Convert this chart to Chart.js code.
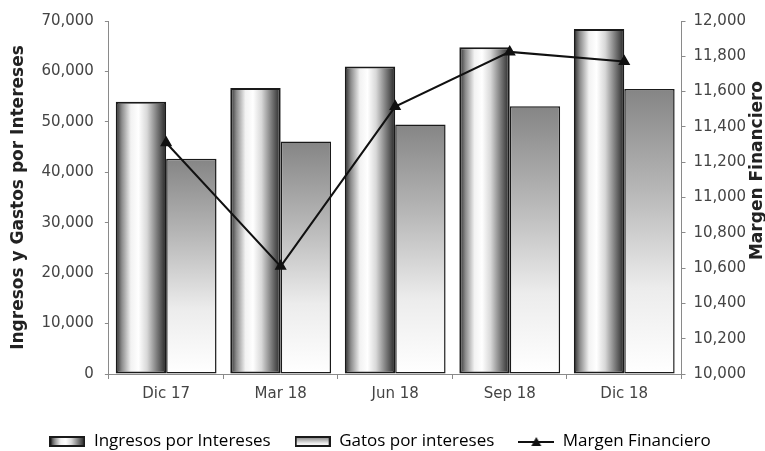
<!DOCTYPE html>
<html>
<head>
<meta charset="utf-8">
<script src="https://cdn.jsdelivr.net/npm/chart.js@4/dist/chart.umd.min.js"></script>
<style>
    html, body { margin: 0; padding: 0; background: #fff; }
    #wrap { width: 765px; height: 451px; position: relative; }
</style>
</head>
<body>
<div id="wrap"><canvas id="margenChart"></canvas></div>
<script>
// Quarterly interest income / expense and financial margin
const periodos = ['Dic 17', 'Mar 18', 'Jun 18', 'Sep 18', 'Dic 18'];
const ingresosIntereses = [54000, 56700, 61000, 64800, 68400];
const gastosIntereses = [42700, 46100, 49500, 53100, 56500];
const margenFinanciero = [11310, 10610, 11515, 11825, 11770];

const tickFont = { family: 'DejaVu Sans', size: 15 };
const titleFont = { family: 'DejaVu Sans', size: 17, weight: 'bold' };
const tickColor = '#444';
const axisColor = '#8a8a8a';

function fmt(v) {
    return Number(v).toLocaleString('en-US');
}

// Cylinder-like horizontal shading for the income bars
function addCylinderStops(g) {
    g.addColorStop(0, '#2a2a2a');
    g.addColorStop(0.12, '#8c8c8c');
    g.addColorStop(0.3, '#f2f2f2');
    g.addColorStop(0.45, '#ffffff');
    g.addColorStop(0.62, '#d8d8d8');
    g.addColorStop(0.82, '#7a7a7a');
    g.addColorStop(1, '#262626');
}

// Vertical gray fade for the expense bars
function addFadeStops(g) {
    g.addColorStop(0, '#858585');
    g.addColorStop(0.35, '#b6b6b6');
    g.addColorStop(0.7, '#ececec');
    g.addColorStop(1, '#ffffff');
}

function makeIcon(kind) {
    const c = document.createElement('canvas');
    c.width = 36;
    c.height = 11;
    const g = c.getContext('2d');
    if (kind === 'line') {
        g.strokeStyle = '#111';
        g.lineWidth = 2;
        g.beginPath();
        g.moveTo(0, 6);
        g.lineTo(36, 6);
        g.stroke();
        g.fillStyle = '#111';
        g.beginPath();
        g.moveTo(18, 1);
        g.lineTo(23, 10);
        g.lineTo(13, 10);
        g.closePath();
        g.fill();
        return c;
    }
    const grad = kind === 'cyl' ? g.createLinearGradient(1, 0, 35, 0) : g.createLinearGradient(0, 1, 0, 10);
    if (kind === 'cyl') addCylinderStops(grad); else addFadeStops(grad);
    g.fillStyle = grad;
    g.fillRect(1, 1, 34, 9);
    g.strokeStyle = '#1a1a1a';
    g.lineWidth = 2;
    g.strokeRect(1, 1, 34, 9);
    return c;
}

const legendIcons = [makeIcon('cyl'), makeIcon('fade'), makeIcon('line')];

// Swap the flat bar fills for gradients sized to each bar
const barShading = {
    id: 'barShading',
    beforeDatasetDraw(chart, args) {
        if (args.meta.type !== 'bar') return;
        const ctx = chart.ctx;
        args.meta.data.forEach(bar => {
            const left = bar.x - bar.width / 2;
            let g;
            if (args.index === 0) {
                g = ctx.createLinearGradient(left, 0, left + bar.width, 0);
                addCylinderStops(g);
            } else {
                g = ctx.createLinearGradient(0, bar.y, 0, bar.base);
                addFadeStops(g);
            }
            bar.options.backgroundColor = g;
        });
    }
};

// Right axis title, written bottom-to-top like the left one
const rightTitle = {
    id: 'rightTitle',
    afterDraw(chart) {
        const ctx = chart.ctx;
        const area = chart.chartArea;
        ctx.save();
        ctx.translate(chart.width - 7, (area.top + area.bottom) / 2 - 27);
        ctx.rotate(-Math.PI / 2);
        ctx.font = 'bold 17px "DejaVu Sans"';
        ctx.fillStyle = '#222';
        ctx.textAlign = 'center';
        ctx.textBaseline = 'middle';
        ctx.fillText('Margen Financiero', 0, 0);
        ctx.restore();
    }
};

const ctx = document.getElementById('margenChart');

new Chart(ctx, {
    data: {
        labels: periodos,
        datasets: [
            {
                type: 'bar',
                label: 'Ingresos por Intereses',
                data: ingresosIntereses,
                backgroundColor: () => '#cccccc',
                borderColor: '#1a1a1a',
                borderWidth: 2,
                borderSkipped: false,
                categoryPercentage: 0.88,
                barPercentage: 1.0,
                yAxisID: 'y',
                order: 2
            },
            {
                type: 'bar',
                label: 'Gatos por intereses',
                data: gastosIntereses,
                backgroundColor: () => '#aaaaaa',
                borderColor: '#1a1a1a',
                borderWidth: 1.5,
                borderSkipped: false,
                categoryPercentage: 0.88,
                barPercentage: 1.0,
                yAxisID: 'y',
                order: 2
            },
            {
                type: 'line',
                label: 'Margen Financiero',
                data: margenFinanciero,
                borderColor: '#111',
                borderWidth: 2,
                pointStyle: 'triangle',
                pointRadius: 5,
                pointBackgroundColor: '#111',
                pointBorderColor: '#111',
                tension: 0,
                yAxisID: 'y1',
                order: 1
            }
        ]
    },
    options: {
        responsive: true,
        maintainAspectRatio: false,
        animation: false,
        layout: {
            padding: { top: 21, right: 11, bottom: -9, left: 6 }
        },
        plugins: {
            legend: {
                position: 'bottom',
                labels: {
                    usePointStyle: true,
                    pointStyleWidth: 36,
                    font: { family: 'Open Sans', size: 17 },
                    color: '#444',
                    padding: 24,
                    generateLabels(chart) {
                        return chart.data.datasets.map((ds, i) => ({
                            text: ds.label,
                            pointStyle: legendIcons[i],
                            datasetIndex: i,
                            hidden: false,
                            fillStyle: '#000',
                            strokeStyle: '#000',
                            lineWidth: 0
                        }));
                    }
                }
            },
            tooltip: { enabled: false }
        },
        scales: {
            x: {
                offset: true,
                grid: {
                    offset: true,
                    drawOnChartArea: false,
                    tickLength: 5,
                    color: axisColor
                },
                border: { color: axisColor, width: 1 },
                ticks: { font: tickFont, color: tickColor, padding: 6 }
            },
            y: {
                position: 'left',
                min: 0,
                max: 70000,
                grid: { drawOnChartArea: false, tickLength: 4, color: axisColor },
                border: { color: axisColor, width: 1 },
                ticks: {
                    stepSize: 10000,
                    font: tickFont,
                    color: tickColor,
                    padding: 11,
                    callback: v => fmt(v)
                },
                title: {
                    display: true,
                    text: 'Ingresos y Gastos por Intereses',
                    font: titleFont,
                    color: '#222',
                    padding: { top: 2, bottom: 2 }
                }
            },
            y1: {
                position: 'right',
                min: 10000,
                max: 12000,
                grid: { drawOnChartArea: false, tickLength: 4, color: axisColor },
                border: { color: axisColor, width: 1 },
                ticks: {
                    stepSize: 200,
                    font: tickFont,
                    color: tickColor,
                    padding: 8,
                    callback: v => fmt(v)
                }
            }
        }
    },
    plugins: [barShading, rightTitle]
});
</script>
</body>
</html>
